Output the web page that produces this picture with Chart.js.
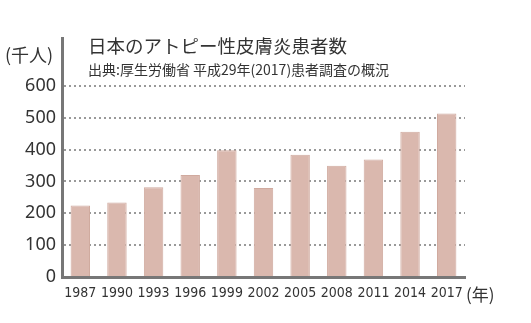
<html lang="ja">
  <head>
    <meta charset="UTF-8" />
    <script src="https://cdn.jsdelivr.net/npm/chart.js@4.4.1/dist/chart.umd.min.js"></script>
    <style>
      body { margin: 0; background: #fff; }
      .wrap { position: relative; width: 531px; height: 323px; }
      .lbl { position: absolute; color: #333; font-family: "Noto Sans CJK JP", "Noto Sans", sans-serif; white-space: nowrap; line-height: 1; }
    </style>
  </head>
  <body>
    <div class="wrap">
      <canvas id="chart" width="531" height="323"></canvas>
      <div class="lbl" style="left:88px; top:36px; font-size:18.5px;">日本のアトピー性皮膚炎患者数</div>
      <div class="lbl" style="left:88px; top:62px; font-size:14px;">出典:厚生労働省 平成29年(2017)患者調査の概況</div>
      <div class="lbl" style="left:5px; top:45px; font-size:18px;">(千人)</div>
      <div class="lbl" style="left:466px; top:285px; font-size:17px;">(年)</div>
    </div>
    <script>
      // data (thousand patients)
      const years = ["1987", "1990", "1993", "1996", "1999", "2002", "2005", "2008", "2011", "2014", "2017"];
      const patients = [224, 234, 282, 320, 398, 279, 384, 349, 369, 456, 513];

      const ctx = document.getElementById("chart").getContext("2d");
      new Chart(ctx, {
        type: "bar",
        data: {
          labels: years,
          datasets: [
            {
              data: patients,
              backgroundColor: "#dab8ae",
              borderColor: "#d0aa9f",
              borderWidth: 1,
              barPercentage: 0.53,
              categoryPercentage: 1,
            },
          ],
        },
        options: {
          responsive: false,
          animation: false,
          layout: { padding: { top: 38, right: 66, left: 0, bottom: 0 } },
          plugins: { legend: { display: false }, tooltip: { enabled: false } },
          scales: {
            x: {
              grid: { display: false, drawTicks: false },
              border: { color: "#777", width: 3 },
              ticks: {
                color: "#333",
                padding: 8,
                maxRotation: 0,
                autoSkip: false,
                font: { family: "'Liberation Sans Narrow', 'DejaVu Sans Condensed', sans-serif", size: 14 },
              },
              afterFit: (scale) => { scale.height = 46; },
            },
            y: {
              min: 0,
              max: 750,
              ticks: {
                stepSize: 100,
                color: "#333",
                padding: 6,
                font: { family: "'Noto Sans', sans-serif", size: 18 },
              },
              afterBuildTicks: (scale) => {
                scale.ticks = scale.ticks.filter((t) => t.value <= 600);
              },
              grid: { color: "#999", lineWidth: 2, drawTicks: false },
              border: { color: "#777", width: 3, dash: [2, 3] },
              afterFit: (scale) => { scale.width = 62; },
            },
          },
        },
      });
    </script>
  </body>
</html>
